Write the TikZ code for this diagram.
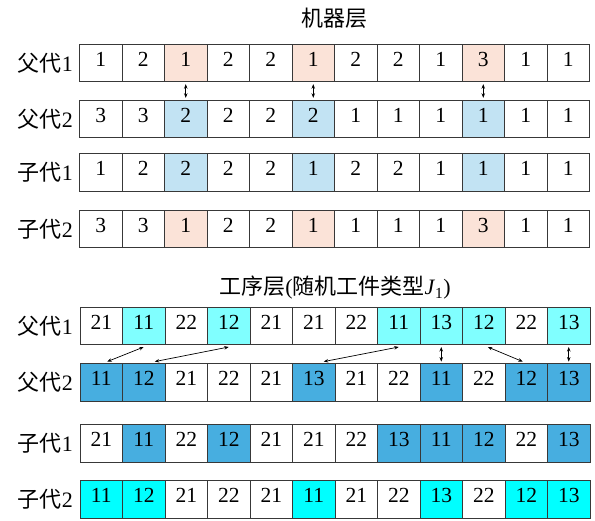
\documentclass[tikz,border=0pt]{standalone}
\usepackage{fontspec}
\setmainfont{Liberation Serif}
\newfontfamily\cjk{Noto Sans CJK SC}
\usetikzlibrary{arrows.meta,calc}
\definecolor{pk}{HTML}{FBE3D8}
\definecolor{lb}{HTML}{C2E3F3}
\definecolor{lc}{HTML}{80FFFF}
\definecolor{bl}{HTML}{47AEE0}
\definecolor{cy}{HTML}{00FFFF}
\definecolor{wh}{HTML}{FFFFFF}
\begin{document}
\begin{tikzpicture}[x=1pt,y=-1pt,
  cell/.style={draw=black!78, line width=0.9pt, minimum width=42.5pt, minimum height=37.5pt,
    inner sep=0pt, font=\fontsize{21.5}{22}\selectfont, text height=0.68em, text depth=0pt},
  lab/.style={anchor=east, inner sep=0pt, font=\fontsize{22}{22}\selectfont},
  ttl/.style={inner sep=0pt, font=\fontsize{22}{22}\selectfont},
  dbl/.style={{Stealth[length=4.5pt,width=3.5pt]}-{Stealth[length=4.5pt,width=3.5pt]}, line width=0.7pt, black}]
\useasboundingbox (0,0) rectangle (595,521);
% ---- machine layer
\node[ttl] (t1) at (334,18) {\cjk 机器层};
\foreach \v/\f [count=\i] in {1/wh,2/wh,1/pk,2/wh,2/wh,1/pk,2/wh,2/wh,1/wh,3/pk,1/wh,1/wh}
  \node[cell,fill=\f] (A1c\i) at ({79.5+(\i-0.5)*42.5},63) {\v};
\foreach \v/\f [count=\i] in {3/wh,3/wh,2/lb,2/wh,2/wh,2/lb,1/wh,1/wh,1/wh,1/lb,1/wh,1/wh}
  \node[cell,fill=\f] (A2c\i) at ({79.5+(\i-0.5)*42.5},119) {\v};
\foreach \v/\f [count=\i] in {1/wh,2/wh,2/lb,2/wh,2/wh,1/lb,2/wh,2/wh,1/wh,1/lb,1/wh,1/wh}
  \node[cell,fill=\f] (A3c\i) at ({79.5+(\i-0.5)*42.5},172.3) {\v};
\foreach \v/\f [count=\i] in {3/wh,3/wh,1/pk,2/wh,2/wh,1/pk,1/wh,1/wh,1/wh,3/pk,1/wh,1/wh}
  \node[cell,fill=\f] (A4c\i) at ({79.5+(\i-0.5)*42.5},229) {\v};
\node[lab] (la1) at (73,63) {{\cjk 父代}1};
\node[lab] (la2) at (73,119) {{\cjk 父代}2};
\node[lab] (la3) at (73,172.3) {{\cjk 子代}1};
\node[lab] (la4) at (73,229) {{\cjk 子代}2};
\foreach \k in {3,6,10}
  \draw[dbl, shorten <=2pt, shorten >=2pt] (A1c\k.south) -- (A2c\k.north);
% ---- operation layer
\node[ttl] (t2) at (335,288) {{\cjk 工序层}({\cjk 随机工件类型}\textit{J}\textsubscript{1})};
\foreach \v/\f [count=\i] in {21/wh,11/lc,22/wh,12/lc,21/wh,21/wh,22/wh,11/lc,13/lc,12/lc,22/wh,13/lc}
  \node[cell,fill=\f] (B1c\i) at ({80+(\i-0.5)*42.5},326) {\v};
\foreach \v/\f [count=\i] in {11/bl,12/bl,21/wh,22/wh,21/wh,13/bl,21/wh,22/wh,11/bl,22/wh,12/bl,13/bl}
  \node[cell,fill=\f] (B2c\i) at ({80+(\i-0.5)*42.5},382.4) {\v};
\foreach \v/\f [count=\i] in {21/wh,11/bl,22/wh,12/bl,21/wh,21/wh,22/wh,13/bl,11/bl,12/bl,22/wh,13/bl}
  \node[cell,fill=\f] (B3c\i) at ({80+(\i-0.5)*42.5},443.6) {\v};
\foreach \v/\f [count=\i] in {11/cy,12/cy,21/wh,22/wh,21/wh,11/cy,21/wh,22/wh,13/cy,22/wh,12/cy,13/cy}
  \node[cell,fill=\f] (B4c\i) at ({80+(\i-0.5)*42.5},499.6) {\v};
\node[lab] (lb1) at (73,326) {{\cjk 父代}1};
\node[lab] (lb2) at (73,382.4) {{\cjk 父代}2};
\node[lab] (lb3) at (73,443.6) {{\cjk 子代}1};
\node[lab] (lb4) at (73,499.6) {{\cjk 子代}2};
\draw[dbl] ($(B1c2.south)+(0,1.8)$) -- ($(B2c1.north)+(6,-1.6)$);
\draw[dbl] ($(B1c4.south)+(0,1.8)$) -- ($(B2c2.north)+(11,-1.6)$);
\draw[dbl] ($(B1c8.south)+(0,1.8)$) -- ($(B2c6.north)+(10,-1.6)$);
\draw[dbl] ($(B1c10.south)+(4,1.8)$) -- ($(B2c11.north)+(-3.5,-1.6)$);
\foreach \k in {9,12}
  \draw[dbl, shorten <=1.8pt, shorten >=1.6pt] (B1c\k.south) -- (B2c\k.north);
\end{tikzpicture}
\end{document}
